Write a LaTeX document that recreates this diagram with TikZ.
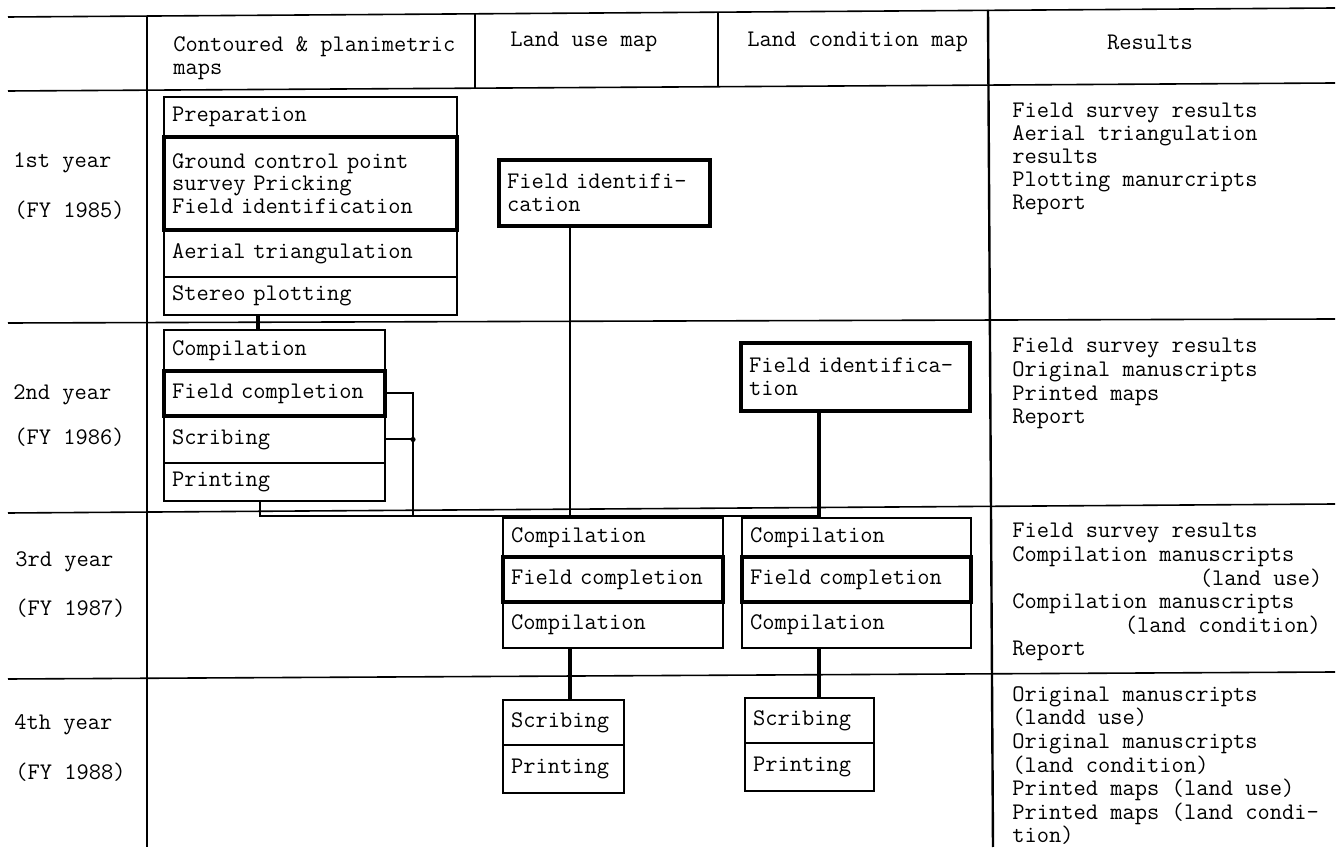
\documentclass[tikz,border=0pt]{standalone}
\usepackage{tikz}
\begin{document}
\begin{tikzpicture}[x=0.5pt,y=-0.5pt,
  every node/.style={font=\ttfamily\fontsize{11.9pt}{11.4pt}\selectfont},
  bx/.style 2 args={draw, line width=0.9pt, anchor=north west, outer sep=0pt,
     inner xsep=4pt, inner ysep=0pt, text width=#1, minimum height=#2, align=left},
  thk/.style={line width=2pt},
  lbl/.style={anchor=west, inner sep=0pt, align=left},
  res/.style={anchor=north west, inner sep=0pt, align=left,
     font=\ttfamily\fontsize{11.9pt}{11.8pt}\selectfont},
  rule/.style={line width=0.8pt},
  vrule/.style={line width=1.2pt},
  conn/.style={line width=1pt},
  tconn/.style={line width=1.8pt}
]
\useasboundingbox (0,0) rectangle (1340,849);
\fill[white] (0,0) rectangle (1340,849);

% table rules (the scanned original is slightly skewed)
\draw[rule] (8,17) -- (1335,8);
\draw[rule] (8,91) -- (1335,83);
\draw[rule] (8,323) -- (1335,319);
\draw[rule] (8,513) -- (1335,504);
\draw[rule] (8,679) -- (1335,672);
\draw[vrule] (147,17) -- (147,847);
\draw[vrule] (988,10) -- (993,847);
\draw[rule] (475,14) -- (475,88);
\draw[rule] (718,12) -- (718,87);

% header
\node[lbl] (hA) at (173,58) {Contoured \& planimetric\\maps};
\node[lbl] (hB) at (510,42) {Land use map};
\node[lbl] (hC) at (747,42) {Land condition map};
\node[inner sep=0pt] (hD) at (1150,42) {Results};

% row labels
\node[lbl] (r1a) at (13,163) {1st year};
\node[lbl] (r1b) at (14,210) {(FY 1985)};
\node[lbl] (r2a) at (13,395) {2nd year};
\node[lbl] (r2b) at (14,437) {(FY 1986)};
\node[lbl] (r3a) at (15,562) {3rd year};
\node[lbl] (r3b) at (15,608) {(FY 1987)};
\node[lbl] (r4a) at (14,725) {4th year};
\node[lbl] (r4b) at (15,772) {(FY 1988)};

% results
\node[res,font=\ttfamily\fontsize{11.9pt}{11.5pt}\selectfont] (res1) at (1012,103) {Field survey results\\Aerial triangulation\\results\\Plotting manurcripts\\Report};
\node[res] (res2) at (1012,338) {Field survey results\\Original manuscripts\\Printed maps\\Report};
\node[res] (res3) at (1012,523) {Field survey results\\Compilation manuscripts\\\hspace*{93.75pt}(land use)\\Compilation manuscripts\\\hspace*{56.25pt}(land condition)\\Report};
\node[res] (res4) at (1012,686) {Original manuscripts\\(landd use)\\Original manuscripts\\(land condition)\\Printed maps (land use)\\Printed maps (land condi-\\tion)};

% stack A (1st year)
\node[bx={138.5pt}{20pt}] (prep) at (164,97) {Preparation};
\node[bx={138.5pt}{46.5pt},thk] (gcp) at (prep.south west) {Ground control point\\survey Pricking\\Field identification};
\node[bx={138.5pt}{23.5pt}] (aer) at (gcp.south west) {Aerial triangulation};
\node[bx={138.5pt}{19pt}] (ster) at (aer.south west) {Stereo plotting};

% stack B (2nd year)
\node[bx={102.5pt}{20.5pt}] (comp1) at (164,330) {Compilation};
\node[bx={102.5pt}{22.5pt},thk] (fc1) at (comp1.south west) {Field~completion};
\node[bx={102.5pt}{23.5pt}] (scr1) at (fc1.south west) {Scribing};
\node[bx={102.5pt}{19pt}] (prt1) at (scr1.south west) {Printing};

% field identification boxes
\node[bx={97.5pt}{33pt},thk] (luf) at (499,160) {Field~identifi-\\cation};
\node[bx={106.5pt}{34pt},thk] (lcf) at (741,343) {Field~identifica-\\tion};

% 3rd year, land use
\node[bx={102pt}{19.5pt}] (luc1) at (503,518) {Compilation};
\node[bx={102pt}{22.5pt},thk] (lufc) at (luc1.south west) {Field~completion};
\node[bx={102pt}{23pt}] (luc2) at (lufc.south west) {Compilation};
% 3rd year, land condition
\node[bx={106.5pt}{19.5pt}] (lcc1) at (742,518) {Compilation};
\node[bx={106.5pt}{22.5pt},thk] (lcfc) at (lcc1.south west) {Field~completion};
\node[bx={106.5pt}{23pt}] (lcc2) at (lcfc.south west) {Compilation};

% 4th year
\node[bx={52.5pt}{22.5pt}] (lus) at (503,700) {Scribing};
\node[bx={52.5pt}{24pt}] (lup) at (lus.south west) {Printing};
\node[bx={56.5pt}{22.5pt}] (lcs) at (745,698) {Scribing};
\node[bx={56.5pt}{24pt}] (lcp) at (lcs.south west) {Printing};

% connectors
\coordinate (xA) at (258,0);
\coordinate (xB) at (413,0);
\coordinate (xLU) at (570,0);
\coordinate (xLC) at (819,0);
\coordinate (bus) at (260,516);

\draw[tconn] (ster.south -| xA) -- (comp1.north -| xA);
\draw[conn] (prt1.south -| bus) -- (bus) -- (bus -| xLC);
\draw[conn] (fc1.east) -- (fc1.east -| xB) -- (bus -| xB);
\draw[conn] (scr1.east) -- (scr1.east -| xB);
\fill (scr1.east -| xB) circle[radius=1.3pt];
\draw[line width=1.4pt] (luf.south -| xLU) -- (luc1.north -| xLU);
\draw[tconn] (lcf.south -| xLC) -- (lcc1.north -| xLC);
\draw[tconn] (luc2.south -| xLU) -- (lus.north -| xLU);
\draw[tconn] (lcc2.south -| xLC) -- (lcs.north -| xLC);
\end{tikzpicture}
\end{document}
